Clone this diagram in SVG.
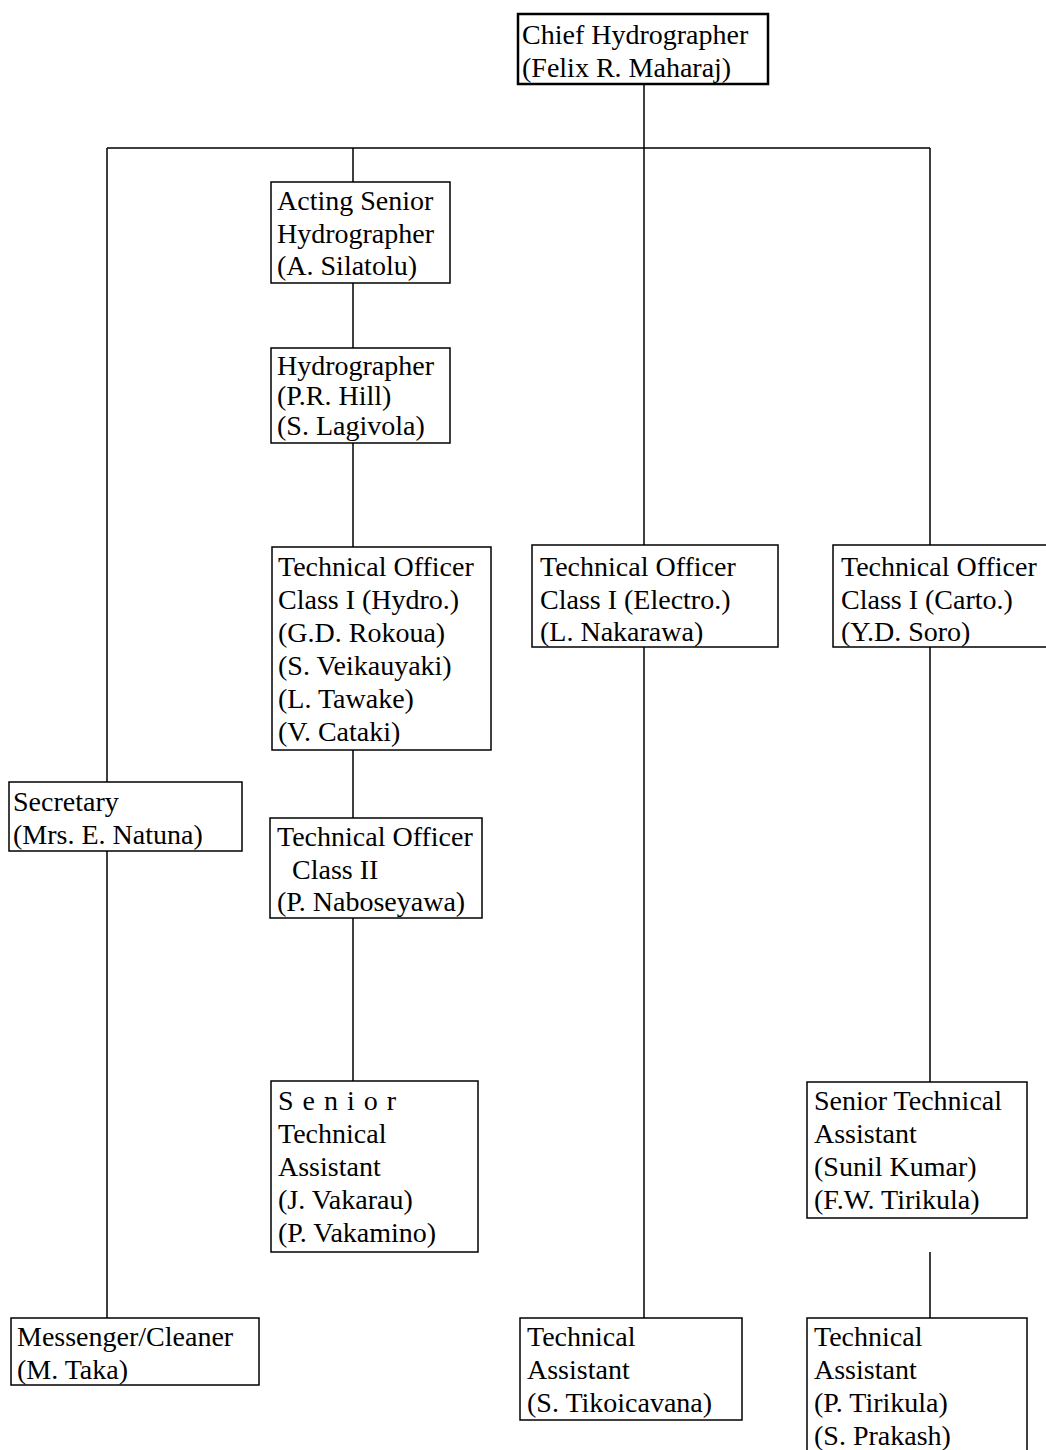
<svg xmlns="http://www.w3.org/2000/svg" width="1046" height="1450" viewBox="0 0 1046 1450">
<style>
.box{fill:#fff;stroke:#000;stroke-width:1.5}
.chief{fill:#fff;stroke:#000;stroke-width:2.5}
.ln{stroke:#000;stroke-width:1.5;fill:none}
text{font-family:"Liberation Serif","Times New Roman",serif;font-size:28px;fill:#000}
</style>
<rect width="1046" height="1450" fill="#fff"/>
<g id="connectors">
<path class="ln" d="M644,84V148M107,148H930M107,148V782M107,851V1318M353,148V182M353,283V348M353,443V547M353,750V818M353,918V1081M644,148V545M644,647V1318M930,148V545M930,647V1082M930,1252V1318"/>
</g>
<g id="chief">
<rect class="chief" x="518" y="14" width="250" height="70"/>
<text x="522" y="44">Chief Hydrographer</text>
<text x="522" y="77">(Felix R. Maharaj)</text>
</g>
<g id="acting-senior">
<rect class="box" x="271" y="182" width="179" height="101"/>
<text x="277" y="210">Acting Senior</text>
<text x="277" y="243">Hydrographer</text>
<text x="277" y="275">(A. Silatolu)</text>
</g>
<g id="hydrographer">
<rect class="box" x="271" y="348" width="179" height="95"/>
<text x="277" y="375">Hydrographer</text>
<text x="277" y="405">(P.R. Hill)</text>
<text x="277" y="435">(S. Lagivola)</text>
</g>
<g id="to-hydro">
<rect class="box" x="272" y="547" width="219" height="203"/>
<text x="278" y="576">Technical Officer</text>
<text x="278" y="609">Class I (Hydro.)</text>
<text x="278" y="642">(G.D. Rokoua)</text>
<text x="278" y="675">(S. Veikauyaki)</text>
<text x="278" y="708">(L. Tawake)</text>
<text x="278" y="741">(V. Cataki)</text>
</g>
<g id="to-electro">
<rect class="box" x="532" y="545" width="246" height="102"/>
<text x="540" y="576">Technical Officer</text>
<text x="540" y="609">Class I (Electro.)</text>
<text x="540" y="641">(L. Nakarawa)</text>
</g>
<g id="to-carto">
<rect class="box" x="833" y="545" width="230" height="102"/>
<text x="841" y="576">Technical Officer</text>
<text x="841" y="609">Class I (Carto.)</text>
<text x="841" y="641">(Y.D. Soro)</text>
</g>
<g id="secretary">
<rect class="box" x="9" y="782" width="233" height="69"/>
<text x="13" y="811">Secretary</text>
<text x="13" y="844">(Mrs. E. Natuna)</text>
</g>
<g id="to-class2">
<rect class="box" x="270" y="818" width="212" height="100"/>
<text x="277" y="846">Technical Officer</text>
<text x="292" y="879">Class II</text>
<text x="277" y="911">(P. Naboseyawa)</text>
</g>
<g id="sta-hydro">
<rect class="box" x="271" y="1081" width="207" height="171"/>
<text x="278" y="1110" letter-spacing="9">Senior</text>
<text x="278" y="1143">Technical</text>
<text x="278" y="1176">Assistant</text>
<text x="278" y="1209">(J. Vakarau)</text>
<text x="278" y="1242">(P. Vakamino)</text>
</g>
<g id="sta-carto">
<rect class="box" x="807" y="1082" width="220" height="136"/>
<text x="814" y="1110">Senior Technical</text>
<text x="814" y="1143">Assistant</text>
<text x="814" y="1176">(Sunil Kumar)</text>
<text x="814" y="1209">(F.W. Tirikula)</text>
</g>
<g id="messenger">
<rect class="box" x="11" y="1318" width="248" height="67"/>
<text x="17" y="1346">Messenger/Cleaner</text>
<text x="17" y="1379">(M. Taka)</text>
</g>
<g id="ta-electro">
<rect class="box" x="520" y="1318" width="222" height="102"/>
<text x="527" y="1346">Technical</text>
<text x="527" y="1379">Assistant</text>
<text x="527" y="1412">(S. Tikoicavana)</text>
</g>
<g id="ta-carto">
<rect class="box" x="807" y="1318" width="220" height="150"/>
<text x="814" y="1346">Technical</text>
<text x="814" y="1379">Assistant</text>
<text x="814" y="1412">(P. Tirikula)</text>
<text x="814" y="1445">(S. Prakash)</text>
</g>
</svg>
